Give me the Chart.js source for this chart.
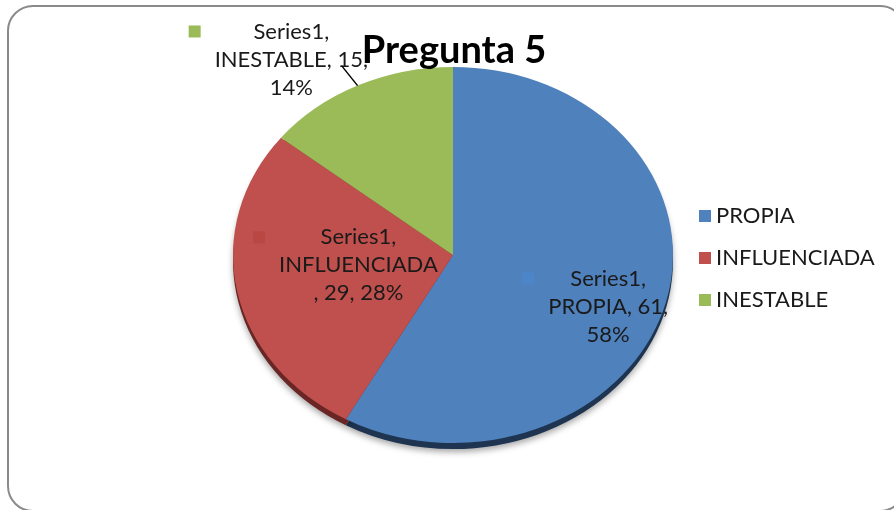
<!DOCTYPE html>
<html><head><meta charset="utf-8">
<script src="https://cdn.jsdelivr.net/npm/chart.js@4"></script>
<style>html,body{margin:0;padding:0;background:#fff}#wrap{width:894px;height:510px;position:relative}</style>
</head><body><div id="wrap"><canvas id="c" width="894" height="510"></canvas></div>
<script>
// ---- data ----
const titleText = 'Pregunta 5';
const seriesName = 'Series1';
const categories = ['PROPIA', 'INFLUENCIADA', 'INESTABLE'];
const values = [61, 29, 15];

// ---- styles ----
const colors = ['#4f81bd', '#c0504d', '#9bbb59'];
const labelKeyColors = ['#4c86c8', '#b94845', '#9bbb59'];
const edgeColors = ['#1e3450', '#6a2624', '#4e6330'];
const FONT = 'Lato, "Open Sans", sans-serif';
const pieAspect = 188 / 220;          // vertical squash of the tilted pie
const labelAnchors = [[0.705, 0.275], [-0.43, 0.055], [-0.735, -1.04]]; // in radii from centre
const wrapAfterCategory = [false, true, false];
const leaderSlices = [2];

const total = values.reduce((a, b) => a + b, 0);
const percents = values.map(v => Math.round(v / total * 100) + '%');
function labelLines(i) {
  const c = categories[i], v = values[i], p = percents[i];
  return wrapAfterCategory[i]
    ? [seriesName + ',', c, ', ' + v + ', ' + p]
    : [seriesName + ',', c + ', ' + v + ',', p];
}

function roundRect(ctx, x, y, w, h, r) {
  ctx.beginPath();
  ctx.moveTo(x + r, y);
  ctx.lineTo(x + w - r, y); ctx.arcTo(x + w, y, x + w, y + r, r);
  ctx.lineTo(x + w, y + h - r); ctx.arcTo(x + w, y + h, x + w - r, y + h, r);
  ctx.lineTo(x + r, y + h); ctx.arcTo(x, y + h, x, y + h - r, r);
  ctx.lineTo(x, y + r); ctx.arcTo(x, y, x + r, y, r);
  ctx.closePath();
}

const decor = {
  id: 'decor',
  beforeDraw(chart) {
    const ctx = chart.ctx;
    ctx.save();
    ctx.fillStyle = '#fff';
    ctx.fillRect(0, 0, chart.width, chart.height);
    ctx.strokeStyle = '#8a8a8a';
    ctx.lineWidth = 2;
    roundRect(ctx, 8, 6, 897, 505, 25);
    ctx.stroke();
    ctx.restore();
  },
  beforeDatasetsDraw(chart) {
    const ctx = chart.ctx;
    const meta = chart.getDatasetMeta(0);
    const a0 = meta.data[0];
    const cy = a0.y;
    // 3D rim and soft shadow
    ctx.save();
    ctx.translate(0, cy + 6);
    ctx.scale(1, pieAspect);
    ctx.translate(0, -cy);
    ctx.shadowColor = 'rgba(0,0,0,0.35)';
    ctx.shadowBlur = 6;
    ctx.shadowOffsetY = 3;
    meta.data.forEach((el, i) => {
      ctx.beginPath();
      ctx.moveTo(el.x, el.y);
      ctx.arc(el.x, el.y, el.outerRadius, el.startAngle, el.endAngle);
      ctx.closePath();
      ctx.fillStyle = edgeColors[i];
      ctx.fill();
    });
    ctx.restore();
    ctx.save();
    ctx.translate(0, cy);
    ctx.scale(1, pieAspect);
    ctx.translate(0, -cy);
  },
  afterDatasetsDraw(chart) {
    const ctx = chart.ctx;
    ctx.restore();
    const meta = chart.getDatasetMeta(0);
    const a0 = meta.data[0];
    const cx = a0.x, cy = a0.y, rx = a0.outerRadius, ry = rx * pieAspect;

    ctx.save();
    ctx.font = '22px ' + FONT;
    ctx.fillStyle = '#1a1a1a';
    ctx.textAlign = 'center';
    ctx.textBaseline = 'middle';
    const lh = 28;
    meta.data.forEach((el, i) => {
      const lx = cx + labelAnchors[i][0] * rx;
      const ly = cy + labelAnchors[i][1] * ry;
      const lines = labelLines(i);
      const y0 = ly - lh * (lines.length - 1) / 2;
      let maxW = 0;
      lines.forEach((t, k) => {
        maxW = Math.max(maxW, ctx.measureText(t).width);
        ctx.fillText(t, lx, y0 + k * lh);
      });
      ctx.fillStyle = labelKeyColors[i];
      ctx.fillRect(lx - maxW / 2 - 26, y0 - 6, 12, 12);
      ctx.fillStyle = '#1a1a1a';
      if (leaderSlices.includes(i)) {
        const mid = (el.startAngle + el.endAngle) / 2;
        const ex = cx + Math.cos(mid) * rx, ey = cy + Math.sin(mid) * ry;
        ctx.strokeStyle = '#000';
        ctx.lineWidth = 1.5;
        ctx.beginPath();
        ctx.moveTo(ex - 16, ey - 20);
        ctx.lineTo(ex, ey);
        ctx.stroke();
      }
    });

    // legend
    ctx.textAlign = 'left';
    categories.forEach((c, i) => {
      const y = 216 + i * 42;
      ctx.fillStyle = colors[i];
      ctx.fillRect(699, y - 6, 12, 12);
      ctx.fillStyle = '#1a1a1a';
      ctx.fillText(c, 716, y);
    });

    // title
    ctx.font = 'bold 38px ' + FONT;
    ctx.fillStyle = '#000';
    ctx.textAlign = 'center';
    ctx.textBaseline = 'alphabetic';
    ctx.fillText(titleText, 454, 63);
    ctx.restore();
  }
};

new Chart(document.getElementById('c'), {
  type: 'pie',
  data: {
    labels: categories,
    datasets: [{ label: seriesName, data: values, backgroundColor: colors, borderWidth: 0 }]
  },
  options: {
    responsive: false,
    animation: false,
    devicePixelRatio: 1,
    events: [],
    layout: { padding: { left: 233, right: 221, top: 35, bottom: 35 } },
    plugins: { legend: { display: false }, title: { display: false }, tooltip: { enabled: false } }
  },
  plugins: [decor]
});
</script></body></html>
